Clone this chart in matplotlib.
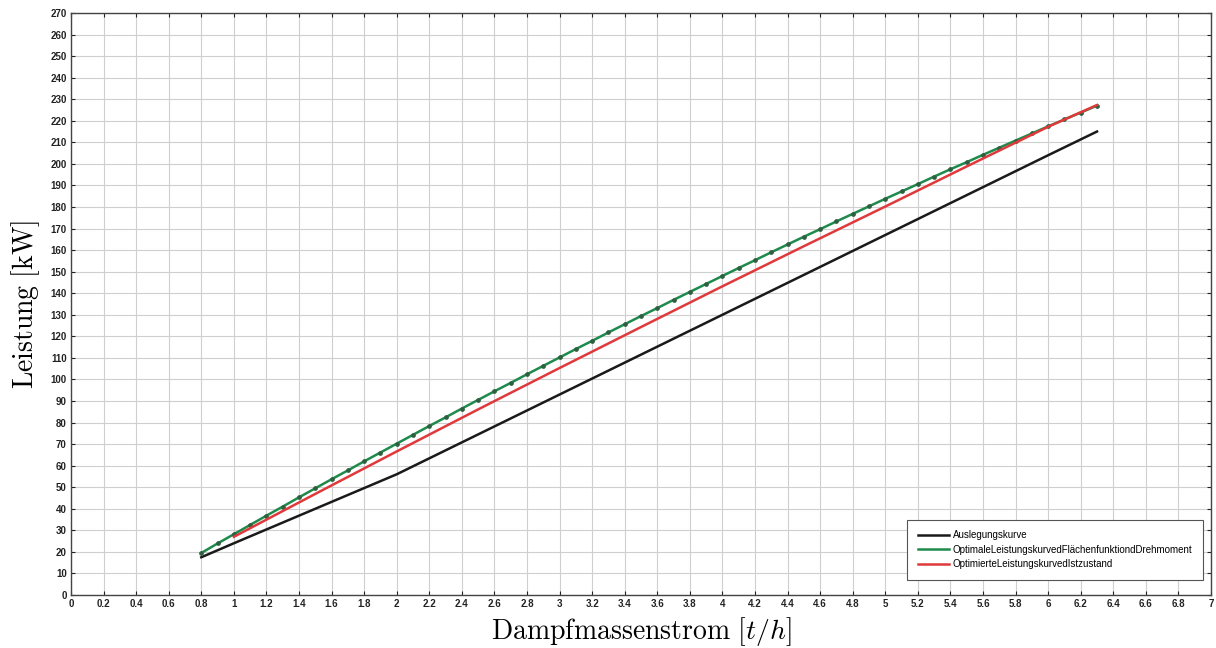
import numpy as np
import matplotlib
matplotlib.use("Agg")
import matplotlib.pyplot as plt

plt.rcParams['mathtext.fontset'] = 'cm'
plt.rcParams['font.family'] = ['Liberation Sans', 'DejaVu Sans']

# Auslegungskurve
x_ausl = [0.8, 1.0, 1.5, 2.0, 2.5, 3.0, 3.5, 4.0, 4.5, 5.0, 5.5, 6.0, 6.3]
p_ausl = [17.5, 24.0, 40.0, 56.0, 74.5, 93.0, 111.5, 130.0, 148.5, 167.0, 185.5, 204.0, 215.0]

# optimale Leistungskurve (Flaechenfunktion / Drehmoment), Stuetzstellen alle 0.1 t/h
x_opt = [0.8, 0.9, 1.0, 1.1, 1.2, 1.3, 1.4, 1.5, 1.6, 1.7, 1.8, 1.9,
         2.0, 2.1, 2.2, 2.3, 2.4, 2.5, 2.6, 2.7, 2.8, 2.9,
         3.0, 3.1, 3.2, 3.3, 3.4, 3.5, 3.6, 3.7, 3.8, 3.9,
         4.0, 4.1, 4.2, 4.3, 4.4, 4.5, 4.6, 4.7, 4.8, 4.9,
         5.0, 5.1, 5.2, 5.3, 5.4, 5.5, 5.6, 5.7, 5.8, 5.9,
         6.0, 6.1, 6.2, 6.3]
p_opt = [19.5, 23.9, 28.2, 32.5, 36.8, 41.0, 45.3, 49.5, 53.7, 57.8, 62.0, 66.1,
         70.2, 74.3, 78.4, 82.4, 86.5, 90.5, 94.5, 98.4, 102.4, 106.3,
         110.2, 114.1, 117.9, 121.8, 125.6, 129.4, 133.1, 136.9, 140.6, 144.3,
         148.0, 151.7, 155.3, 159.0, 162.6, 166.2, 169.7, 173.3, 176.8, 180.3,
         183.8, 187.2, 190.6, 194.1, 197.5, 200.8, 204.2, 207.5, 210.8, 214.1,
         217.4, 220.6, 223.8, 227.0]

# optimierte Leistungskurve (Istzustand)
x_ist = [1.0, 1.5, 2.0, 2.5, 3.0, 3.5, 4.0, 4.5, 5.0, 5.5, 6.0, 6.3]
p_ist = [27.0, 46.9, 66.6, 86.1, 105.3, 124.3, 143.2, 161.8, 180.2, 198.8, 217.2, 227.3]

labels = ['Auslegungskurve',
          'OptimaleLeistungskurvedFlächenfunktiondDrehmoment',
          'OptimierteLeistungskurvedIstzustand']

fig = plt.figure(figsize=(12.16, 6.48), dpi=100)
ax = fig.add_axes([0.0584, 0.0818, 0.9375, 0.8982])

ax.plot(x_ausl, p_ausl, color='#1a1a1a', lw=1.8, label=labels[0])
ax.plot(x_opt, p_opt, color='#1e8a4c', lw=1.8, label=labels[1])
# Stuetzstellen als kleine Punkte, ohne Legendeneintrag
ax.plot(x_opt, p_opt, ls='none', marker='o', ms=2.4,
        mfc='#2f5f40', mec='#2f5f40')
ax.plot(x_ist, p_ist, color='#e0393b', lw=1.8, label=labels[2])

ax.set_xlim(0, 7)
ax.set_ylim(0, 270)
ax.set_xticks(np.arange(0, 7.01, 0.2))
ax.set_yticks(np.arange(0, 271, 10))
ax.set_xticklabels(['%g' % v for v in np.round(np.arange(0, 7.01, 0.2), 1)])
ax.grid(True, color='#cfcfcf', lw=0.8)
ax.set_axisbelow(True)
ax.tick_params(direction='in', length=3, width=0.8, top=True, right=True,
               labelsize=7, colors='#222222', pad=3)
for t in ax.get_xticklabels() + ax.get_yticklabels():
    t.set_fontweight('bold')
for s in ax.spines.values():
    s.set_color('#444444')
    s.set_linewidth(1.0)

ax.set_xlabel(r'$\mathrm{Dampfmassenstrom}\ [t/h]$', fontsize=20, labelpad=4)
ax.set_ylabel(r'$\mathrm{Leistung\ [kW]}$', fontsize=20, labelpad=6)

leg = ax.legend(loc='lower right', bbox_to_anchor=(0.993, 0.026), borderaxespad=0,
                fontsize=7, fancybox=False, edgecolor='#555555', framealpha=1,
                handlelength=3.2, handletextpad=0.4, borderpad=1.1, labelspacing=0.45)
leg.get_frame().set_linewidth(0.8)

fig.savefig('out.png', dpi=100)
